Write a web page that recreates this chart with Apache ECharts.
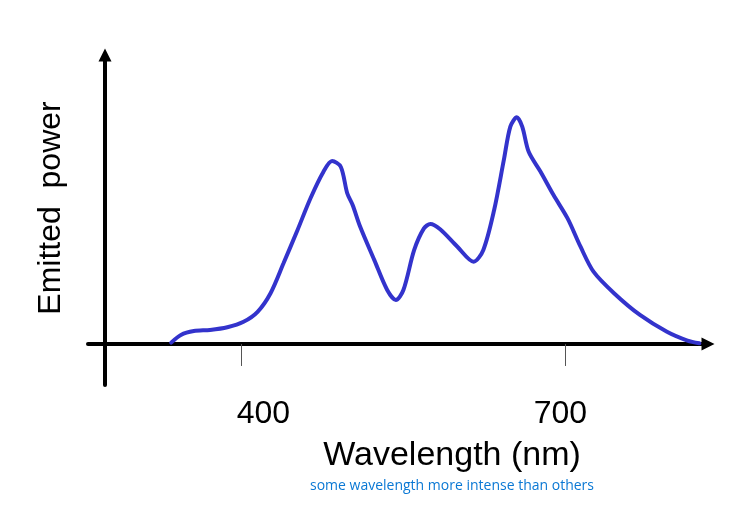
<!DOCTYPE html>
<html>
<head>
<meta charset="utf-8">
<script src="https://cdn.jsdelivr.net/npm/echarts@6/dist/echarts.min.js"></script>
<style>
  html, body { margin: 0; padding: 0; background: #fff; }
  #chart { width: 736px; height: 524px; }
</style>
</head>
<body>
<div id="chart"></div>
<script>
// wavelength (nm) and relative emitted power
const wavelengths = [335, 344, 356, 371, 387, 402, 415, 427, 439, 452, 464, 476, 484, 492,
  498, 503, 510, 523, 535, 543, 550, 560, 569, 575, 584, 600, 615, 624, 634, 643, 649,
  655, 660, 666, 677, 689, 702, 714, 726, 745, 769, 794, 813, 824];
const power = [0.6, 4.0, 5.7, 6.2, 7.4, 9.8, 14.2, 22.4, 35.6, 50.3, 64.3, 76.0, 80.7, 78.2,
  66.5, 61.3, 51.7, 37.1, 23.8, 19.4, 23.8, 41.5, 51.0, 52.9, 50.6, 42.9, 36.3, 41.5, 59.1,
  81.2, 95.9, 100, 95.9, 84.8, 76.0, 65.7, 55.4, 42.9, 31.9, 22.4, 12.8, 5.4, 1.5, 0.3];
const tickValues = [400, 700];

const chart = echarts.init(document.getElementById('chart'));

const font = 'Liberation Sans, Arial, sans-serif';

const option = {
  backgroundColor: '#fff',
  animation: false,
  title: {
    text: 'Wavelength (nm)',
    subtext: 'some wavelength more intense than others',
    left: 447,
    top: 434,
    textAlign: 'center',
    itemGap: 6,
    textStyle: { fontFamily: font, fontSize: 34, fontWeight: 'normal', color: '#000' },
    subtextStyle: { fontFamily: 'Open Sans, sans-serif', fontSize: 14, color: '#0a78d4' }
  },
  grid: { left: 88, right: 28, top: 55, bottom: 139 },
  xAxis: {
    type: 'value',
    min: 258,
    max: 832,
    splitLine: { show: false },
    axisLine: {
      onZero: true,
      symbol: ['none', 'triangle'],
      symbolSize: [13, 13],
      lineStyle: { color: '#000', width: 4 }
    },
    axisTick: {
      customValues: tickValues,
      length: 22,
      inside: false,
      lineStyle: { color: '#555', width: 1 }
    },
    axisLabel: {
      customValues: tickValues,
      margin: 13,
      fontFamily: font,
      fontSize: 32,
      color: '#000',
      formatter: v => (v === 400 ? '{a|' + v + '}' : '{b|' + v + '}'),
      rich: {
        a: { fontFamily: font, fontSize: 32, color: '#000', padding: [0, 0, 0, 44] },
        b: { fontFamily: font, fontSize: 32, color: '#000', padding: [0, 10, 0, 0] }
      }
    }
  },
  yAxis: {
    type: 'value',
    min: -18.1,
    max: 127.5,
    offset: -17,
    name: 'Emitted  power',
    nameLocation: 'middle',
    nameRotate: 90,
    nameGap: 38,
    nameTextStyle: { fontFamily: font, fontSize: 32, color: '#000', padding: [0, 0, 0, 24] },
    splitLine: { show: false },
    axisTick: { show: false },
    axisLabel: { show: false },
    axisLine: {
      onZero: false,
      symbol: ['none', 'triangle'],
      symbolSize: [13, 13],
      lineStyle: { color: '#000', width: 4 }
    }
  },
  series: [
    {
      type: 'line',
      data: wavelengths.map((w, i) => [w, power[i]]),
      smooth: 0.3,
      showSymbol: false,
      lineStyle: { color: '#3333cc', width: 4, cap: 'round' }
    }
  ]
};

chart.setOption(option);
</script>
</body>
</html>
